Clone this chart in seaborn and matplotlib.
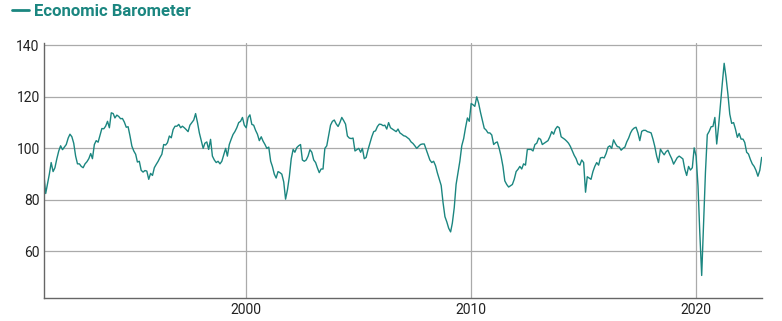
import matplotlib
matplotlib.use("Agg")
import matplotlib.pyplot as plt
import matplotlib.dates as mdates
from matplotlib.lines import Line2D
import seaborn as sns
import pandas as pd

# monthly values of the barometer, one list per year (Jan..Dec)
y1991 = [90, 82.5, 86, 90, 94.5, 91, 92.5, 96, 99, 101, 99.5, 100.5]
y1992 = [101.5, 104, 105.5, 104.5, 102, 97, 94, 94, 93, 92.5, 94, 94.8]
y1993 = [96, 98, 96, 101.5, 103, 102.4, 105, 107.7, 107.6, 108.6, 110.5, 108]
y1994 = [113.8, 113.5, 111.8, 112.9, 112.4, 111.5, 111.6, 110.2, 108.2, 108.4, 104.8, 100.9]
y1995 = [99, 97.7, 94.7, 95, 91.5, 90.8, 91.4, 91.2, 88, 90.3, 89.5, 92.5]
y1996 = [93.8, 95, 96.4, 97.7, 101.5, 101.3, 102.2, 104.8, 104.1, 107.3, 108.6, 108.6]
y1997 = [109.3, 108, 108.6, 108, 107.3, 106.5, 109, 110, 111, 113.5, 110, 106]
y1998 = [103, 100, 102, 102.5, 99.6, 103.5, 97, 95.5, 94.5, 95, 94, 95]
y1999 = [97.5, 100, 97, 101.5, 103.5, 105.4, 106.5, 108, 110, 110.5, 112, 109]
y2000 = [108, 112, 113, 109.3, 109, 107, 105.5, 103, 104.5, 102.8, 101.5, 100]
y2001 = [100.5, 95, 93, 90, 88.5, 91, 90.6, 90, 87, 80.3, 84, 89]
y2002 = [96, 99.6, 98.5, 100.3, 101, 101.5, 95.5, 95, 95.5, 97, 99.5, 98.5]
y2003 = [95.5, 94.5, 92.5, 90.6, 92, 92, 100, 101, 105, 109, 110.5, 111]
y2004 = [109.5, 108.5, 110, 112, 110.8, 109.4, 104.8, 104, 103.8, 104, 99, 99.5]
y2005 = [100, 98.5, 100, 96, 96.5, 99.5, 102, 104.5, 106.5, 106.8, 108.5, 109.4]
y2006 = [109.3, 108.8, 109, 107.5, 110, 108, 107.5, 107, 106.5, 107.5, 106, 105.5]
y2007 = [104.9, 104.7, 104.2, 103.6, 102.5, 101.9, 101, 100, 100.8, 101.5, 101.7, 101.7]
y2008 = [99.6, 97.5, 95.5, 94.5, 95, 93.3, 90.5, 88, 85.6, 79, 73.5, 71.5]
y2009 = [69, 67.6, 71, 77, 86, 90.6, 95, 101, 103.8, 108, 111.8, 110.5]
y2010 = [117.4, 116.9, 116.3, 120, 117.6, 114, 111, 107.8, 107.1, 106, 106, 105.2]
y2011 = [101.5, 102.2, 102.5, 100, 97, 93, 87.4, 86, 85, 85.5, 86, 88]
y2012 = [91, 91.9, 93, 92, 94, 93.5, 99.6, 99.6, 99.6, 99, 101.5, 102]
y2013 = [104, 103.5, 101.5, 102, 102.5, 103, 104.5, 106.5, 105.5, 107.5, 108.5, 108]
y2014 = [104.5, 104, 103.5, 102.8, 102, 100.7, 99, 97.3, 96, 94, 93.5, 95.5]
y2015 = [94.5, 83, 89, 88.5, 88, 91, 93, 94.5, 93.5, 96.3, 96.5, 96.3]
y2016 = [98, 100.5, 101, 100, 103.3, 101.8, 100.7, 100.5, 99.3, 100, 100.5, 102.5]
y2017 = [104, 106, 107.2, 107.9, 108.2, 106, 103, 106.6, 107, 107, 106.5, 106.3]
y2018 = [106, 103.5, 100.8, 97, 94.5, 99.7, 98.5, 97.5, 98.7, 99.3, 97.5, 96]
y2019 = [93.9, 95.2, 96.4, 97, 96.5, 95.9, 92, 89.5, 93, 91.6, 92.5, 100.2]
y2020 = [97, 85.5, 67.5, 50.7, 70, 90.7, 105.3, 106.6, 108.4, 108.5, 112, 101.7]
y2021 = [108.8, 117.4, 125, 133, 127.7, 121, 113.3, 109.7, 110, 107.5, 104.3, 105.8]
y2022 = [103.6, 103.6, 102.3, 98.5, 97.8, 95.7, 94, 93, 91.4, 89.2, 91.5, 96.5]

years = [y1991, y1992, y1993, y1994, y1995, y1996, y1997, y1998, y1999, y2000,
         y2001, y2002, y2003, y2004, y2005, y2006, y2007, y2008, y2009, y2010,
         y2011, y2012, y2013, y2014, y2015, y2016, y2017, y2018, y2019, y2020,
         y2021, y2022]
values = [v for yr in years for v in yr]
dates = pd.date_range("1991-01-01", periods=len(values), freq="MS")
df = pd.DataFrame({"date": dates, "value": values})

y_ticks = [60, 80, 100, 120, 140]
x_ticks = ["2000", "2010", "2020"]

teal = "#1b8680"

sns.set_style("white")
plt.rcParams["font.family"] = ["Roboto", "DejaVu Sans"]

fig = plt.figure(figsize=(7.82, 3.21), dpi=100)
ax = fig.add_axes([0.056, 0.072, 0.918, 0.795])

sns.lineplot(data=df, x="date", y="value", color=teal, linewidth=1.0, ax=ax,
             legend=False)

ax.set_xlim(dates[0], dates[-1])
ax.set_ylim(42, 141)
ax.set_yticks(y_ticks)
ax.set_xticks([pd.Timestamp(t + "-01-01") for t in x_ticks])
ax.xaxis.set_major_formatter(mdates.DateFormatter("%Y"))
ax.grid(True, color="#aaaaaa", linewidth=0.9)
ax.set_axisbelow(True)
ax.set_xlabel("")
ax.set_ylabel("")
ax.tick_params(length=0, labelsize=10, labelcolor="#222222")
ax.tick_params(axis="y", pad=3)
ax.tick_params(axis="x", pad=4)

for side in ["top", "right"]:
    ax.spines[side].set_visible(False)
for side in ["left", "bottom"]:
    ax.spines[side].set_color("#666666")
    ax.spines[side].set_linewidth(1.0)

handle = Line2D([], [], color=teal, linewidth=2.0)
fig.legend([handle], ["Economic Barometer"], loc="upper left",
           bbox_to_anchor=(-0.004, 1.035), frameon=False,
           handlelength=1.0, handletextpad=0.3,
           prop={"weight": "bold", "size": 12}, labelcolor=teal)

fig.savefig("out.png", dpi=100)
